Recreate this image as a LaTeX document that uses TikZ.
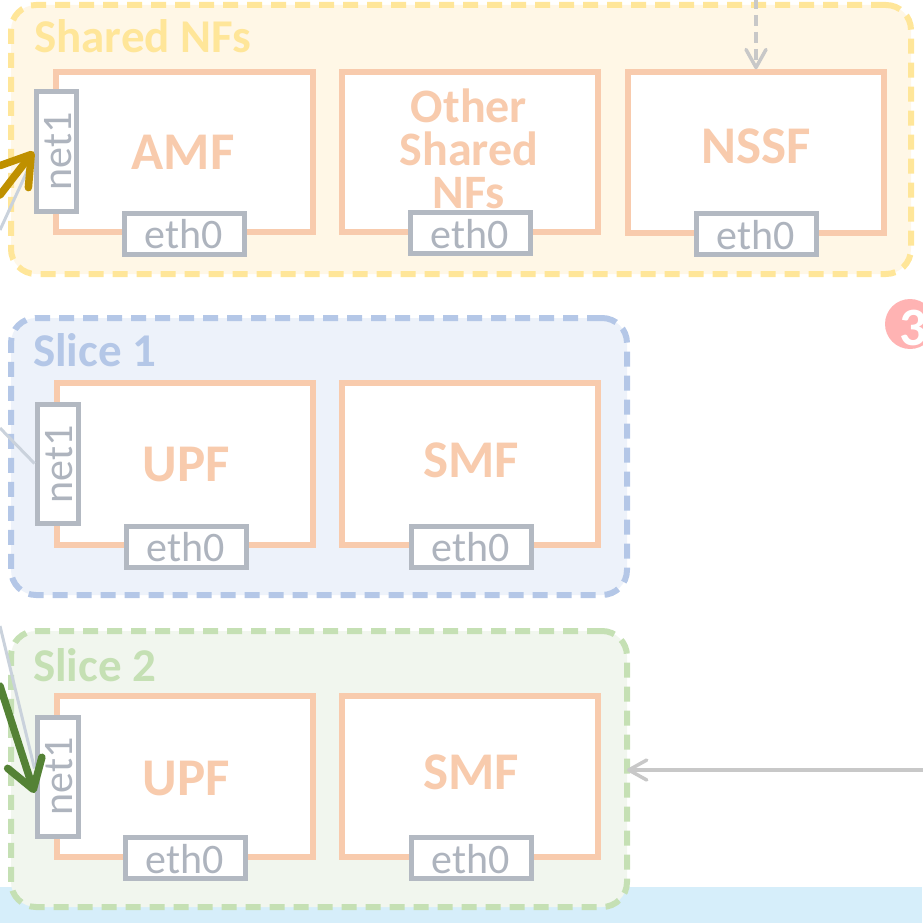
\documentclass[tikz,border=0pt]{standalone}
\usepackage{fontspec}
\setmainfont{Carlito}
\usetikzlibrary{arrows.meta}

\definecolor{shfill}{HTML}{FFF7E6}
\definecolor{shline}{HTML}{FFE699}
\definecolor{sonefill}{HTML}{EDF2FA}
\definecolor{soneline}{HTML}{B4C7E7}
\definecolor{stwofill}{HTML}{F1F6EE}
\definecolor{stwoline}{HTML}{C5E0B4}
\definecolor{nfline}{HTML}{F8CBAD}
\definecolor{portline}{HTML}{B3B9C2}
\definecolor{porttext}{HTML}{AEB4BE}
\definecolor{linkgray}{HTML}{C8C8C8}
\definecolor{netline}{HTML}{CAD2DC}
\definecolor{goldarr}{HTML}{BF9000}
\definecolor{leafarr}{HTML}{548235}
\definecolor{bandblue}{HTML}{D6EEFA}
\definecolor{badgered}{HTML}{FFB3B3}

\begin{document}
\begin{tikzpicture}[x=1pt,y=-1pt,
  group/.style={draw, line width=6pt, dash pattern=on 15pt off 9pt,
    rounded corners=25pt, inner sep=0pt, outer sep=0pt},
  grouplabel/.style={anchor=base west, inner sep=0pt,
    font=\fontsize{47}{47}\selectfont\bfseries},
  nfbox/.style={draw=nfline, fill=white, line width=5.5pt, inner sep=0pt},
  nflabel/.style={text=nfline, inner sep=0pt,
    font=\fontsize{53}{53}\selectfont\bfseries},
  port/.style={draw=portline, fill=white, line width=5pt, inner sep=0pt},
  ethport/.style={port, minimum width=120pt, minimum height=41pt},
  netport/.style={port, minimum width=41pt, minimum height=119pt},
  porttxt/.style={text=porttext, inner sep=0pt, anchor=base,
    font=\fontsize{42}{42}\selectfont},
  grayarrow/.style={draw=linkgray, line width=3.5pt,
    -{Straight Barb[length=18pt,width=20pt,round]}},
  netlink/.style={draw=netline, line width=3pt},
  boldarrow/.style={line width=7.5pt, line cap=round,
    -{Straight Barb[length=28pt,width=36pt,round]}}
]
\useasboundingbox (0,0) rectangle (922,923);

% bottom band
\fill[bandblue] (0,887) rectangle (922,923);

% groups
\node[group, draw=shline, fill=shfill, minimum width=900pt, minimum height=269pt]
  (shared) at (461,139.5) {};
\node[group, draw=soneline, fill=sonefill, minimum width=616pt, minimum height=277pt]
  (slice1) at (319,456.5) {};
\node[group, draw=stwoline, fill=stwofill, minimum width=616pt, minimum height=276pt]
  (slice2) at (319,769) {};

\node[grouplabel, text=shline] (sharedlbl) at (34,53) {Shared NFs};
\node[grouplabel, text=soneline] (slice1lbl) at (33,366) {Slice 1};
\node[grouplabel, text=stwoline] (slice2lbl) at (33,681) {Slice 2};

% shared NFs
\node[nfbox, minimum width=257pt, minimum height=160pt] (amf) at (184.5,152) {};
\node[nflabel] (amflbl) at (183,152.5) {AMF};
\node[ethport] (amfeth) at (184,233.5) {};
\node[porttxt] (amfethtxt) at (184,248.5) {eth0};
\node[netport, minimum width=40pt] (amfnet) at (56,151.5) {};
\node[porttxt, rotate=90] (amfnettxt) at (71,151.5) {net1};

\node[nfbox, minimum width=256pt, minimum height=160pt] (other) at (470,152) {};
\node[nflabel, align=center, font=\fontsize{48}{43}\selectfont\bfseries]
  (otherlbl) at (469,149) {Other\\Shared\\NFs};
\node[ethport] (othereth) at (470,233) {};
\node[porttxt] (otherethtxt) at (470,248) {eth0};

\node[nfbox, minimum width=256pt, minimum height=161pt] (nssf) at (756,152.5) {};
\node[nflabel] (nssflbl) at (756.5,146.5) {NSSF};
\node[ethport] (nssfeth) at (756,234) {};
\node[porttxt] (nssfethtxt) at (756,249) {eth0};

% slice 1
\node[nfbox, minimum width=256pt, minimum height=162pt] (upf1) at (185,464) {};
\node[nflabel] (upf1lbl) at (186,465) {UPF};
\node[ethport] (upf1eth) at (186,546.5) {};
\node[porttxt] (upf1ethtxt) at (186,561.5) {eth0};
\node[netport] (s1net) at (57.5,463.5) {};
\node[porttxt, rotate=90] (s1nettxt) at (72,464) {net1};

\node[nfbox, minimum width=256pt, minimum height=162pt] (smf1) at (470,464) {};
\node[nflabel] (smf1lbl) at (471,460) {SMF};
\node[ethport] (smf1eth) at (471,546.5) {};
\node[porttxt] (smf1ethtxt) at (471,561.5) {eth0};

% slice 2
\node[nfbox, minimum width=256pt, minimum height=161pt] (upf2) at (185,776.5) {};
\node[nflabel] (upf2lbl) at (186,778.5) {UPF};
\node[ethport] (upf2eth) at (185,858) {};
\node[porttxt] (upf2ethtxt) at (185,873) {eth0};
\node[netport] (s2net) at (57.5,776.5) {};
\node[porttxt, rotate=90] (s2nettxt) at (72,776) {net1};

\node[nfbox, minimum width=256pt, minimum height=161pt] (smf2) at (470,776.5) {};
\node[nflabel] (smf2lbl) at (471,772) {SMF};
\node[ethport] (smf2eth) at (471,858) {};
\node[porttxt] (smf2ethtxt) at (471,873) {eth0};

% step badge
\node[circle, fill=badgered, minimum size=50pt, inner sep=0pt] (badge) at (910,324) {};
\node[text=white, inner sep=0pt, font=\fontsize{54}{54}\selectfont\bfseries]
  (badgenum) at (913,328) {3};

% incoming links
\coordinate (nssfin) at (756,-2);
\draw[grayarrow, dash pattern=on 11pt off 6pt] (nssfin) -- (nssf.north);
\coordinate (slicein) at (924,770);
\draw[grayarrow] (slicein) -- (slice2.east |- slicein);

\coordinate (amfin) at (0,230);
\draw[netlink] (amfin) -- ([yshift=-6pt]amfnet.west);
\coordinate (goldin) at (0,195);
\draw[boldarrow, draw=goldarr] (goldin) -- (amfnet.west);

\coordinate (s1in) at (0,428);
\draw[netlink] (s1in) -- (s1net.west);

\coordinate (s2in) at (0,626);
\draw[netlink] (s2in) -- ([yshift=8pt]s2net.west);
\coordinate (greenin) at (0,686);
\draw[boldarrow, draw=leafarr] (greenin) -- ([yshift=-16.5pt]s2net.west);
\end{tikzpicture}
\end{document}
